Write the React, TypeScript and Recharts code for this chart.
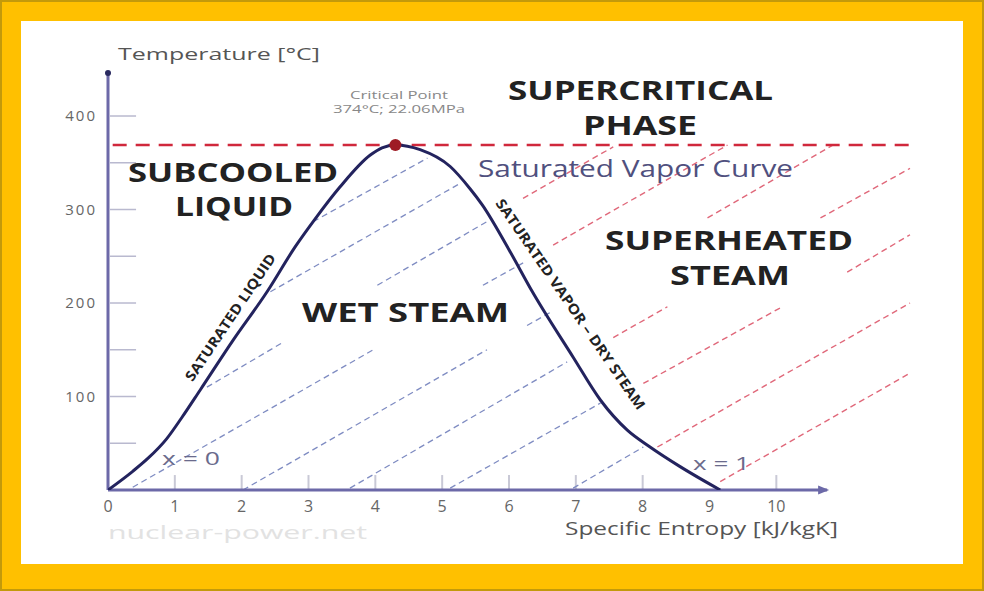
import { LineChart, Line, XAxis, YAxis, ReferenceLine, ReferenceDot } from "recharts";

// saturation dome (s in kJ/kgK, T in °C)
const liquidS = [0, 0.37, 0.6, 0.88, 1.1, 1.38, 1.87, 2.38, 2.8, 3.1, 3.47, 3.92, 4.1];
const liquidT = [0, 20, 34, 55, 77, 107, 160, 212, 260, 290, 324, 358, 366];
const vaporS = [4.3, 4.67, 5.12, 5.42, 5.6, 6.0, 6.35, 6.96, 7.37, 7.77, 8.11, 8.56, 9.16];
const vaporT = [369, 364, 346, 322, 305, 257, 212, 142, 96, 64, 46, 25, 0];

const critical = { s: 4.3, T: 369 };

const entropyTicks = [0, 1, 2, 3, 4, 5, 6, 7, 8, 9, 10];
const entropyTickMarks = [1, 2, 3, 4, 5, 6, 7, 8, 10];
const tempTicks = [100, 200, 300, 400];
const tempMinorTicks = [50, 100, 150, 200, 250, 300, 350, 400];

// dashed hatch segments [s0, T0, s1, T1]
const wetLines = [
  [0.37, 3, 3.97, 150],
  [1.48, 110, 2.62, 158],
  [2.02, 0, 5.67, 150],
  [3.62, 2, 6.87, 137],
  [5.12, 2, 7.37, 93],
  [6.96, 2, 8.01, 46],
  [3.07, 287, 4.78, 355],
  [2.43, 212, 5.27, 328],
  [4.03, 219, 5.67, 287],
  [5.61, 219, 6.24, 244],
  [6.27, 176, 6.62, 190],
];
const superLines = [
  [6.21, 312, 7.56, 367],
  [6.66, 262, 9.27, 369],
  [8.97, 291, 10.85, 369],
  [10.66, 291, 12.0, 344],
  [11.06, 233, 12.0, 273],
  [7.56, 163, 8.37, 196],
  [8.01, 114, 10.09, 196],
  [8.22, 46, 12.0, 200],
  [9.16, 9, 12.0, 125],
];

const domeData = [
  ...liquidS.map((s, i) => ({ s, T: liquidT[i] })),
  ...vaporS.map((s, i) => ({ s, T: vaporT[i] })),
];

const AXIS = "#6c69a8";

const labels = [
  { t: "Temperature [°C]", x: 118, y: 60, size: 17, w: 400, c: "#555", len: 202 },
  { t: "Specific Entropy [kJ/kgK]", x: 565, y: 535, size: 18, w: 400, c: "#555", len: 273 },
  { t: "nuclear-power.net", x: 108, y: 539, size: 19, w: 400, c: "#e2e2e2", len: 259 },
  { t: "Critical Point", x: 350, y: 99, size: 11, w: 400, c: "#888", len: 98 },
  { t: "374°C; 22.06MPa", x: 333, y: 113, size: 11, w: 400, c: "#888", len: 132 },
  { t: "SUPERCRITICAL", x: 508, y: 100, size: 26, w: 700, c: "#222", len: 265 },
  { t: "PHASE", x: 583, y: 135, size: 26, w: 700, c: "#222", len: 114 },
  { t: "SUBCOOLED", x: 128, y: 182, size: 26, w: 700, c: "#222", len: 210 },
  { t: "LIQUID", x: 175, y: 216, size: 26, w: 700, c: "#222", len: 118 },
  { t: "Saturated Vapor Curve", x: 478, y: 177, size: 23, w: 400, c: "#50507e", len: 315 },
  { t: "SUPERHEATED", x: 605, y: 250, size: 26, w: 700, c: "#222", len: 248 },
  { t: "STEAM", x: 670, y: 285, size: 26, w: 700, c: "#222", len: 120 },
  { t: "WET STEAM", x: 302, y: 322, size: 27, w: 700, c: "#222", len: 207 },
  { t: "x = 0", x: 162, y: 465, size: 18, w: 400, c: "#6a6a8c", len: 58 },
  { t: "x = 1", x: 693, y: 470, size: 18, w: 400, c: "#6a6a8c", len: 57 },
];

const rotated = [
  { t: "SATURATED LIQUID", cx: 230, cy: 317, angle: -56, len: 150 },
  { t: "SATURATED VAPOR – DRY STEAM", cx: 571, cy: 304, angle: 55.5, len: 252 },
];

const font = "'Open Sans', Lato, sans-serif";

function XTick(props: any) {
  const { x, y, payload } = props;
  return (
    <text x={x} y={y + 13} textAnchor="middle" fontSize={16} fill="#666" fontFamily={font}>
      {payload.value}
    </text>
  );
}

function YTick(props: any) {
  const { x, y, payload } = props;
  return (
    <text x={x} y={y + 5} textAnchor="end" fontSize={15} fill="#666" fontFamily={font} letterSpacing={2}>
      {payload.value}
    </text>
  );
}

export default function App() {
  return (
    <div
      style={{
        position: "fixed",
        left: 0,
        top: 0,
        width: 984,
        height: 591,
        background: "#FFC000",
        boxSizing: "border-box",
        border: "2px solid #c39a0b",
      }}
    >
      <div style={{ position: "absolute", left: 19, top: 19, width: 942, height: 543, background: "#fff" }} />
      <div style={{ position: "absolute", left: -2, top: -2 }}>
        <LineChart width={984} height={591} margin={{ top: 73, right: 74, bottom: 71, left: 48 }}>
          <XAxis
            type="number"
            dataKey="s"
            domain={[0, 12]}
            ticks={entropyTicks}
            allowDataOverflow
            axisLine={false}
            tickLine={false}
            tickMargin={3}
            height={30}
            tick={<XTick />}
          />
          <YAxis
            type="number"
            domain={[0, 446]}
            ticks={tempTicks}
            allowDataOverflow
            axisLine={false}
            tickLine={false}
            tickMargin={5}
            width={60}
            tick={<YTick />}
          />
          {tempMinorTicks.map((t) => (
            <ReferenceLine
              key={"yt" + t}
              segment={[{ x: 0.03, y: t }, { x: 0.42, y: t }]}
              stroke="#b9b9cf"
              strokeWidth={1.5}
              ifOverflow="visible"
            />
          ))}
          {entropyTickMarks.map((s) => (
            <ReferenceLine
              key={"xt" + s}
              segment={[{ x: s, y: 0 }, { x: s, y: 16 }]}
              stroke="#c9c9d6"
              strokeWidth={2}
              ifOverflow="visible"
            />
          ))}
          {wetLines.map((l, i) => (
            <ReferenceLine
              key={"w" + i}
              segment={[{ x: l[0], y: l[1] }, { x: l[2], y: l[3] }]}
              stroke="#7f8cc2"
              strokeWidth={1.3}
              strokeDasharray="6 4"
              ifOverflow="visible"
            />
          ))}
          {superLines.map((l, i) => (
            <ReferenceLine
              key={"r" + i}
              segment={[{ x: l[0], y: l[1] }, { x: l[2], y: l[3] }]}
              stroke="#e0687a"
              strokeWidth={1.4}
              strokeDasharray="6 4"
              ifOverflow="visible"
            />
          ))}
          <ReferenceLine
            segment={[{ x: 0.07, y: critical.T }, { x: 12, y: critical.T }]}
            stroke="#d0283c"
            strokeWidth={2.5}
            strokeDasharray="14 9"
            ifOverflow="visible"
          />
          <ReferenceLine segment={[{ x: 0, y: 0 }, { x: 0, y: 446 }]} stroke={AXIS} strokeWidth={3} ifOverflow="visible" />
          <ReferenceLine segment={[{ x: 0, y: 0 }, { x: 10.76, y: 0 }]} stroke={AXIS} strokeWidth={3} ifOverflow="visible" />
          <ReferenceDot x={0} y={446} r={3} fill="#2a2a60" stroke="none" ifOverflow="visible" />
          <ReferenceDot
            x={10.76}
            y={0}
            ifOverflow="visible"
            shape={(p: any) => (
              <path d={`M${p.cx - 9},${p.cy - 4.5}L${p.cx + 2},${p.cy}L${p.cx - 9},${p.cy + 4.5}Z`} fill={AXIS} />
            )}
          />
          <Line
            data={domeData}
            dataKey="T"
            type="monotone"
            stroke="#23235e"
            strokeWidth={3}
            dot={false}
            isAnimationActive={false}
          />
          <ReferenceDot x={critical.s} y={critical.T} r={6} fill="#9e1b24" stroke="none" ifOverflow="visible" />
        </LineChart>
      </div>
      <svg
        width={984}
        height={591}
        style={{ position: "absolute", left: -2, top: -2, pointerEvents: "none" }}
        fontFamily={font}
      >
        {labels.map((l) => (
          <text
            key={l.t}
            x={l.x}
            y={l.y}
            fontSize={l.size}
            fontWeight={l.w}
            fill={l.c}
            textLength={l.len}
            lengthAdjust="spacingAndGlyphs"
          >
            {l.t}
          </text>
        ))}
        {rotated.map((r) => (
          <text
            key={r.t}
            x={r.cx}
            y={r.cy}
            transform={`rotate(${r.angle} ${r.cx} ${r.cy})`}
            textAnchor="middle"
            dominantBaseline="central"
            fontSize={14}
            fontWeight={700}
            fill="#222"
            textLength={r.len}
            lengthAdjust="spacingAndGlyphs"
          >
            {r.t}
          </text>
        ))}
      </svg>
    </div>
  );
}
